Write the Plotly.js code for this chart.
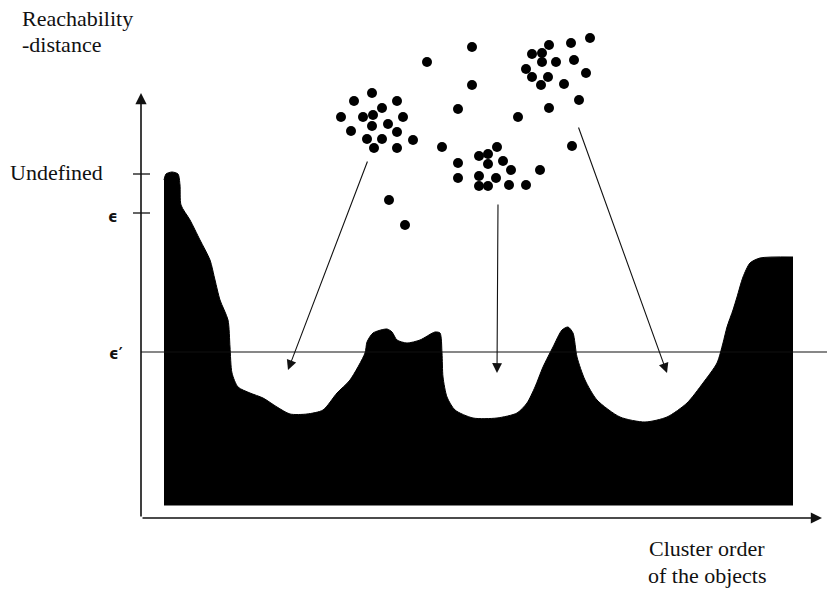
<!DOCTYPE html>
<html>
<head>
<meta charset="utf-8">
<script src="https://cdn.plot.ly/plotly-3.0.1.min.js"></script>
<style>html,body{margin:0;padding:0;background:#fff;}#chart{width:827px;height:590px;}</style>
</head>
<body>
<div id="chart"></div>
<script>
// Reachability plot (cluster order on x, reachability-distance on y)
const clusterOrder = [23,25,31,37,39,40,49,59,69,74,79,87,89,91,97,109,122,136,149,166,182,196,209,224,226,232,246,251,256,266,279,294,299,301,302,306,314,332,356,376,386,394,402,412,421,427,432,436,444,456,479,504,526,546,562,576,582,586,592,596,602,609,619,652];
const reachDist    = [338,344,346,344,333,313,298,278,258,238,218,198,171,145,131,125,120,111,104,104,108,125,138,165,176,185,189,186,178,175,178,186,185,165,141,121,108,100,100,105,115,131,151,171,188,191,185,161,138,118,101,96,101,115,135,155,175,191,208,221,241,255,260,261];
const plotFloor = [13, 13];
const floorOrder = [23, 652];

// Levels marked on the reachability axis
const levelNames  = ["Undefined", "ϵ", "ϵ′"];
const levelValues = [344, 305, 166];

// Point clusters (sketch of the data space)
const clusterA_x = [231,213,256,241,200,222,232,262,231,247,210,256,226,241,272,233,256];
const clusterA_y = [425,417,417,410,401,401,403,401,392,394,387,386,379,379,378,370,370];
const clusterB_x = [356,338,347,347,362,317,370,317,338,355,338,347,368,385];
const clusterB_y = [371,362,364,354,357,355,348,340,342,340,332,332,333,333];
const clusterC_x = [408,430,449,391,401,401,415,433,385,391,407,400,423,445,438,408];
const clusterC_y = [473,475,480,464,465,456,456,458,449,441,441,433,434,445,418,410];
const noise_x = [248,264,286,331,331,317,301,377,431,399];
const noise_y = [318,293,456,471,433,409,371,401,372,348];

const font = {family: "Liberation Serif", size: 22, color: "#111"};
const dotMarker = {size: 10, color: "#000"};

const traces = [
  {x: floorOrder, y: plotFloor, type: "scatter", mode: "lines", line: {color: "#000", width: 1}, hoverinfo: "skip"},
  {x: clusterOrder, y: reachDist, type: "scatter", mode: "lines", fill: "tonexty",
   fillcolor: "#000", line: {color: "#000", width: 1, shape: "spline", smoothing: 0.7}, hoverinfo: "skip"},
  {x: clusterA_x, y: clusterA_y, type: "scatter", mode: "markers", marker: dotMarker},
  {x: clusterB_x, y: clusterB_y, type: "scatter", mode: "markers", marker: dotMarker},
  {x: clusterC_x, y: clusterC_y, type: "scatter", mode: "markers", marker: dotMarker},
  {x: noise_x, y: noise_y, type: "scatter", mode: "markers", marker: dotMarker}
];

const shapes = [
  {type: "line", x0: -8, x1: 9, y0: levelValues[0], y1: levelValues[0], line: {color: "#111", width: 1.3}},
  {type: "line", x0: -8, x1: 9, y0: levelValues[1], y1: levelValues[1], line: {color: "#111", width: 1.3}},
  {type: "line", x0: 0, x1: 690, y0: levelValues[2], y1: levelValues[2], line: {color: "#111", width: 1.2}}
];

function arrow(x, y, ax, ay, w, size) {
  return {x: x, y: y, ax: ax, ay: ay, xref: "x", yref: "y", axref: "x", ayref: "y",
          text: "", showarrow: true, arrowhead: 2, arrowsize: size, arrowwidth: w, arrowcolor: "#111", standoff: 0, startstandoff: 0};
}

const annotations = [
  // axes
  arrow(0, 425, 0, 0, 1.6, 1.4),
  arrow(681, 0, 0, 0, 1.6, 1.4),
  // cluster -> valley arrows
  arrow(147, 148, 227, 358, 1.1, 1.8),
  arrow(356, 145, 357, 315, 1.1, 1.8),
  arrow(526, 145, 437, 392, 1.1, 1.8),
  // labels
  {x: -121, y: 500, xref: "x", yref: "y", text: "Reachability", showarrow: false, xanchor: "left", yanchor: "middle", font: font},
  {x: -121, y: 474, xref: "x", yref: "y", text: "-distance", showarrow: false, xanchor: "left", yanchor: "middle", font: font},
  {x: -36, y: 346, xref: "x", yref: "y", text: levelNames[0], showarrow: false, xanchor: "right", yanchor: "middle", font: font},
  {x: -28, y: 301, xref: "x", yref: "y", text: levelNames[1], showarrow: false, xanchor: "center", yanchor: "middle",
   font: {family: "DejaVu Sans", size: 15, color: "#111", weight: "bold"}},
  {x: -25, y: 164, xref: "x", yref: "y", text: levelNames[2], showarrow: false, xanchor: "center", yanchor: "middle",
   font: {family: "DejaVu Sans", size: 15, color: "#111", weight: "bold"}},
  {x: 566, y: -30, xref: "x", yref: "y", text: "Cluster order", showarrow: false, xanchor: "center", yanchor: "middle", font: font},
  {x: 566, y: -57, xref: "x", yref: "y", text: "of the objects", showarrow: false, xanchor: "center", yanchor: "middle", font: font}
];

const layout = {
  width: 827, height: 590,
  margin: {l: 0, r: 0, t: 0, b: 0, pad: 0},
  paper_bgcolor: "#fff", plot_bgcolor: "#fff",
  showlegend: false,
  xaxis: {range: [-141, 686], visible: false, fixedrange: true},
  yaxis: {range: [-72, 518], visible: false, fixedrange: true},
  shapes: shapes,
  annotations: annotations
};

Plotly.newPlot("chart", traces, layout, {displayModeBar: false, staticPlot: true});
</script>
</body>
</html>
